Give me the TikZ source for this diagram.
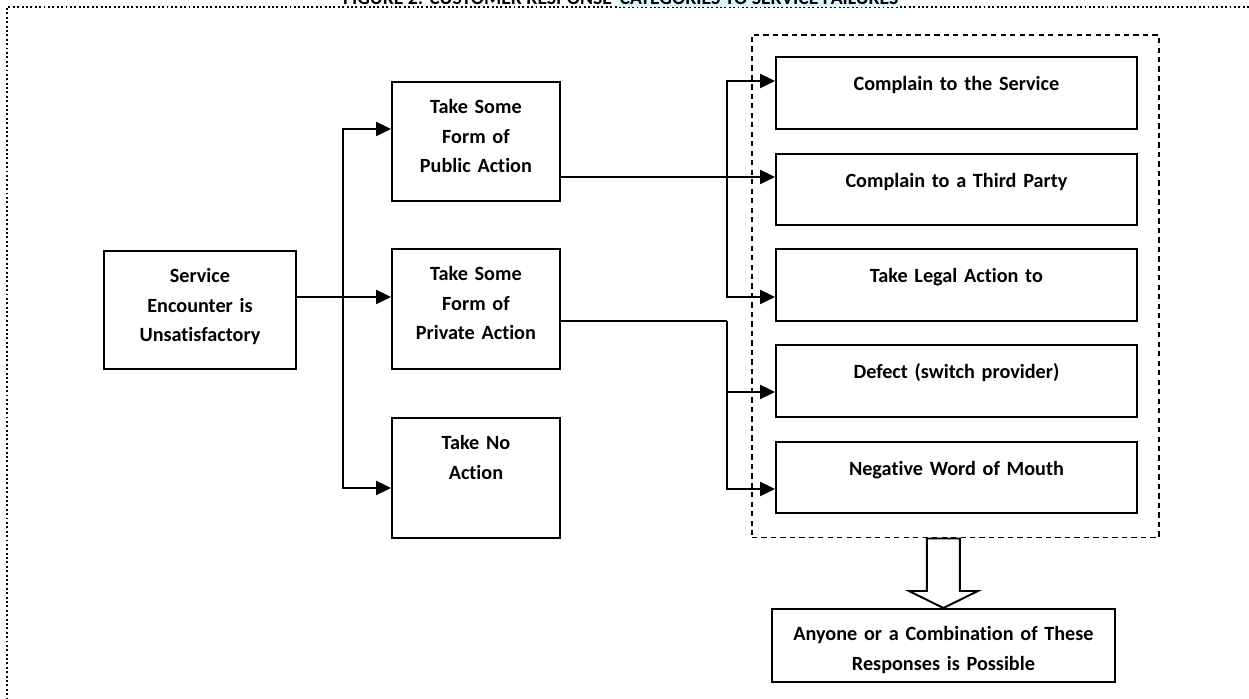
\documentclass[tikz,border=0pt]{standalone}
\usepackage{fontspec}
\setmainfont{Carlito}[Ligatures=NoCommon]
\usepackage{tikz}
\usetikzlibrary{arrows.meta, calc}
\definecolor{titlehl}{HTML}{DDF6FB}

\begin{document}
\begin{tikzpicture}[x=0.02cm, y=-0.02cm,
    box/.style={draw, line width=1.1pt, inner sep=0pt, anchor=north west, align=center,
      font=\bfseries\fontsize{11.5}{16.8}\selectfont, text height=0.64cm},
    conn/.style={line width=1.1pt},
    arr/.style={conn, -{Triangle[length=8.5pt,width=8pt]}}]
  \useasboundingbox (0,0) rectangle (1249,699);

  % Frame
  \draw[line width=1.1pt, dash pattern=on 1.1pt off 1.4pt] (1249,7) -- (7,7) -- (7,699);

  % Title
  \node[font=\bfseries\fontsize{11.2}{13}\selectfont, anchor=base east, inner sep=1pt] (title) at (614,5) {FIGURE 2: CUSTOMER RESPONSE};
  \node[font=\bfseries\fontsize{11.2}{13}\selectfont, anchor=base west, inner sep=1pt, fill=titlehl] (titlehl) at ([xshift=2pt]title.base east) {CATEGORIES TO SERVICE FAILURES};

  % Group of public/private responses
  \node[draw, line width=0.9pt, dash pattern=on 3pt off 2.4pt, anchor=north west, inner sep=0pt,
    minimum width=8.14cm, minimum height=10.06cm] (grp) at (751,34) {};

  % Left boxes
  \node[box, text width=3.84cm, text depth=1.72cm] (svc) at (103,250) {Service\\Encounter is\\Unsatisfactory};
  \node[box, text width=3.36cm, text depth=1.74cm] (pub) at (391,81) {Take Some\\Form of\\Public Action};
  \node[box, text width=3.36cm, text depth=1.76cm] (priv) at (391,248) {Take Some\\Form of\\Private Action};
  \node[box, text width=3.36cm, text depth=1.76cm] (none) at (391,417) {Take No\\Action};

  % Right boxes
  \node[box, text width=7.22cm, text height=0.67cm, text depth=0.77cm] (r1) at (775,56) {Complain to the Service};
  \node[box, text width=7.22cm, text height=0.67cm, text depth=0.75cm] (r2) at (775,153) {Complain to a Third Party};
  \node[box, text width=7.22cm, text height=0.67cm, text depth=0.77cm] (r3) at (775,248) {Take Legal Action to};
  \node[box, text width=7.22cm, text height=0.67cm, text depth=0.77cm] (r4) at (775,344) {Defect (switch provider)};
  \node[box, text width=7.22cm, text height=0.67cm, text depth=0.75cm] (r5) at (775,441) {Negative Word of Mouth};

  % Result
  \node[box, text width=6.86cm, text depth=0.82cm] (res) at (771,608) {Anyone or a Combination of These\\Responses is Possible};

  % Connectors from the encounter
  \coordinate (trunk) at (343,297);
  \draw[conn] (svc.east |- trunk) -- (trunk);
  \draw[arr] (trunk) -- (priv.west |- trunk);
  \draw[arr] (trunk) |- (pub.west |- 0,129);
  \draw[arr] (trunk) |- (none.west |- 0,488);

  % Public action
  \coordinate (pubbus) at (727,177);
  \draw[arr] (pub.east |- pubbus) -- (r2.west |- pubbus);
  \draw[arr] (pubbus) |- (r1.west |- 0,81);
  \draw[arr] (pubbus) |- (r3.west |- 0,297);

  % Private action
  \coordinate (privbus) at (727,321);
  \draw[conn] (priv.east |- privbus) -- (privbus);
  \draw[arr] (privbus) |- (r4.west |- 0,392);
  \draw[arr] (privbus) |- (r5.west |- 0,489);

  % Block arrow
  \draw[line width=1.1pt, fill=white] (res.north) -- ++(-34.5,-17) -- ++(18,0) coordinate (sl)
    -- (sl |- grp.south) -- ++(33,0) coordinate (sr) -- (sr |- sl) -- ++(18,0) -- cycle;
\end{tikzpicture}
\end{document}
